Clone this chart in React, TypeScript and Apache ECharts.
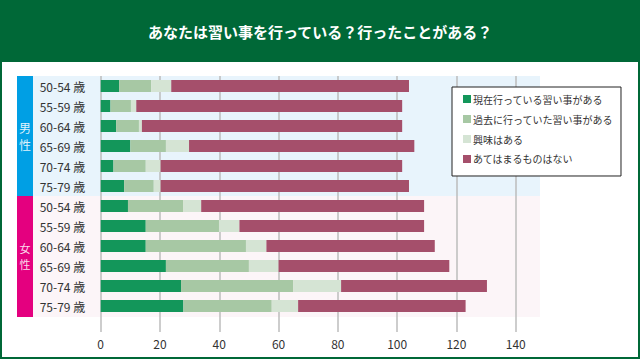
import React, { useEffect, useRef } from "react";
import * as echarts from "echarts";

const title = "あなたは習い事を行っている？行ったことがある？";
const ages = ["50-54 歳", "55-59 歳", "60-64 歳", "65-69 歳", "70-74 歳", "75-79 歳"];
const groups = ["男性", "女性"];
const seriesNames = ["現在行っている習い事がある", "過去に行っていた習い事がある", "興味はある", "あてはまるものはない"];
const xTicks = [0, 20, 40, 60, 80, 100, 120, 140];

// male rows then female rows (top to bottom)
const current = [6.2, 3.3, 5.2, 10.0, 4.3, 7.9, 9.2, 15.2, 15.2, 22.0, 27.1, 27.9];
const past = [10.8, 6.9, 7.7, 12.0, 10.9, 10.0, 18.7, 24.7, 33.8, 28.0, 37.9, 29.8];
const interest = [6.8, 1.8, 1.0, 7.8, 5.0, 2.3, 6.0, 6.9, 6.9, 10.0, 16.1, 8.9];
const none = [80.2, 89.7, 87.8, 76.0, 81.5, 83.8, 75.2, 62.3, 56.8, 57.6, 49.2, 56.5];

const colors = ["#13965a", "#a7c8a4", "#d5e4d4", "#a54f6b"];
const font = "'Noto Sans CJK JP', 'Noto Sans', sans-serif";

export default function App() {
  const ref = useRef<HTMLDivElement>(null);
  useEffect(() => {
    if (!ref.current) return;
    const chart = echarts.init(ref.current, null, { renderer: "svg" });
    const categories = groups.flatMap((g) => ages.map((a) => g + "|" + a));
    const values = [current, past, interest, none];
    chart.setOption({
      animation: false,
      backgroundColor: "#ffffff",
      textStyle: { fontFamily: font },
      grid: { left: 100.7, width: 415, top: 76, height: 240, containLabel: false },
      legend: {
        orient: "vertical",
        left: 452,
        top: 87,
        backgroundColor: "#ffffff",
        borderColor: "#222222",
        borderWidth: 1,
        padding: [7, 8, 12, 11],
        itemWidth: 8,
        itemHeight: 8,
        itemGap: 10,
        icon: "rect",
        textStyle: { fontSize: 10, color: "#333333", fontFamily: font, padding: [0, 0, 0, -3] },
        data: seriesNames,
      },
      xAxis: {
        type: "value",
        min: 0,
        max: 140,
        interval: 20,
        axisLine: { show: false },
        axisTick: { show: true, length: 16, lineStyle: { color: "#bdbdbd", width: 1.5 } },
        splitLine: { show: true, lineStyle: { color: "#bdbdbd", width: 1.5 } },
        axisLabel: { color: "#333333", fontSize: 12, margin: 21, fontFamily: font },
        data: xTicks,
      },
      yAxis: {
        type: "category",
        inverse: true,
        data: categories,
        axisLine: { show: false },
        axisTick: { show: false },
        axisLabel: {
          align: "left",
          margin: 61,
          color: "#333333",
          fontSize: 12,
          fontFamily: font,
          formatter: (v: string) => v.split("|")[1],
        },
      },
      graphic: [
        { type: "rect", z: -10, shape: { x: 0, y: 0, width: 640, height: 62 }, style: { fill: "#006837" } },
        { type: "rect", z: -10, shape: { x: 1, y: 1, width: 638, height: 357 }, style: { fill: "none", stroke: "#006837", lineWidth: 2 } },
        {
          type: "text",
          z: 10,
          x: 320,
          y: 31,
          style: { text: title, fill: "#ffffff", fontSize: 15, fontWeight: "bold", fontFamily: font, align: "center", verticalAlign: "middle" },
        },
        { type: "rect", z: -10, shape: { x: 33, y: 76, width: 507, height: 120 }, style: { fill: "#e8f4fc" } },
        { type: "rect", z: -10, shape: { x: 33, y: 196, width: 507, height: 121 }, style: { fill: "#fcf5f8" } },
        { type: "rect", z: -10, shape: { x: 17, y: 76, width: 16, height: 120 }, style: { fill: "#009fe4" } },
        { type: "rect", z: -10, shape: { x: 17, y: 196, width: 16, height: 121 }, style: { fill: "#e4007f" } },
        {
          type: "text",
          z: 10,
          x: 25,
          y: 136,
          style: { text: "男\n性", fill: "#dff2fc", fontSize: 12, lineHeight: 17, fontFamily: font, align: "center", verticalAlign: "middle" },
        },
        {
          type: "text",
          z: 10,
          x: 25,
          y: 256,
          style: { text: "女\n性", fill: "#fbd9ea", fontSize: 11, lineHeight: 16, fontFamily: font, align: "center", verticalAlign: "middle" },
        },
      ],
      series: seriesNames.map((name, i) => ({
        name,
        type: "bar",
        stack: "total",
        barWidth: 12,
        itemStyle: { color: colors[i] },
        data: values[i],
      })),
    });
    return () => chart.dispose();
  }, []);
  return <div ref={ref} style={{ position: "fixed", left: 0, top: 0, width: 640, height: 360 }} />;
}
